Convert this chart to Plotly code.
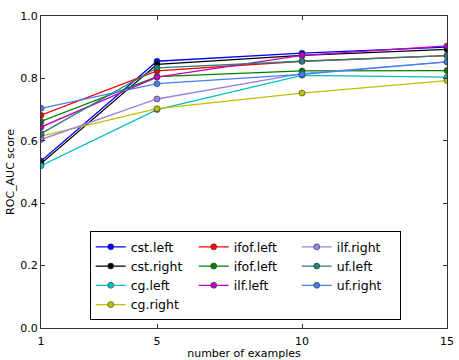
import plotly.graph_objects as go

x_examples = [1, 5, 10, 15]

names = ["cst.left", "cst.right", "cg.left", "cg.right", "ifof.left", "ifof.left",
         "ilf.left", "ilf.right", "uf.left", "uf.right"]
cst_left = [0.535, 0.855, 0.881, 0.900]
cst_right = [0.527, 0.845, 0.874, 0.893]
cg_left = [0.520, 0.700, 0.810, 0.804]
cg_right = [0.615, 0.703, 0.753, 0.793]
ifof_left_a = [0.682, 0.824, 0.855, 0.873]
ifof_left_b = [0.662, 0.806, 0.824, 0.825]
ilf_left = [0.644, 0.804, 0.874, 0.904]
ilf_right = [0.604, 0.734, 0.815, 0.853]
uf_left = [0.623, 0.834, 0.855, 0.873]
uf_right = [0.704, 0.783, 0.813, 0.853]

series = [cst_left, cst_right, cg_left, cg_right, ifof_left_a, ifof_left_b,
          ilf_left, ilf_right, uf_left, uf_right]
colors = ["#0000ff", "#000000", "#00bfbf", "#bfbf00", "#ff0000", "#008000",
          "#bf00bf", "#9b7fe6", "#2a7f7f", "#3f7ff0"]
# legend laid out row-major to mimic 3-column column-major layout
legend_rank = [1, 4, 7, 10, 2, 5, 8, 3, 6, 9]

fig = go.Figure()
for name, ys, col, rk in zip(names, series, colors, legend_rank):
    fig.add_trace(go.Scatter(
        x=x_examples, y=ys, name=name, mode="lines+markers",
        line=dict(color=col, width=1.3),
        marker=dict(color=col, size=6, line=dict(color="#333333", width=0.6)),
        legendrank=rk,
    ))

axis_common = dict(
    showline=True, linecolor="#333333", linewidth=1, mirror="ticks",
    ticks="inside", ticklen=4, tickcolor="#333333", showgrid=False,
    zeroline=False, tickfont=dict(size=11, color="black"),
    ticklabeloverflow="allow",
)

fig.update_layout(
    width=459, height=360,
    margin=dict(l=37, r=12, t=10, b=32),
    paper_bgcolor="white", plot_bgcolor="white",
    font=dict(family="DejaVu Sans", color="black"),
    xaxis=dict(range=[1, 15], tickvals=[1, 5, 10, 15], ticklabelstandoff=3,
               automargin=False,
               title=dict(text="number of examples", font=dict(size=11), standoff=3),
               **axis_common),
    yaxis=dict(range=[0, 1], tickvals=[0, 0.2, 0.4, 0.6, 0.8, 1.0], tickformat=".1f",
               title=dict(text="ROC_AUC score", font=dict(size=11), standoff=3),
               **axis_common),
    showlegend=True,
    legend=dict(
        orientation="h", x=0.12, y=0.025, xanchor="left", yanchor="bottom",
        entrywidth=58, entrywidthmode="pixels",
        bordercolor="black", borderwidth=1, bgcolor="white",
        font=dict(size=12.5), traceorder="normal", tracegroupgap=0,
    ),
)

fig.write_html("out.html", config={"displayModeBar": False},
               post_script="document.body.style.margin='0px';")
